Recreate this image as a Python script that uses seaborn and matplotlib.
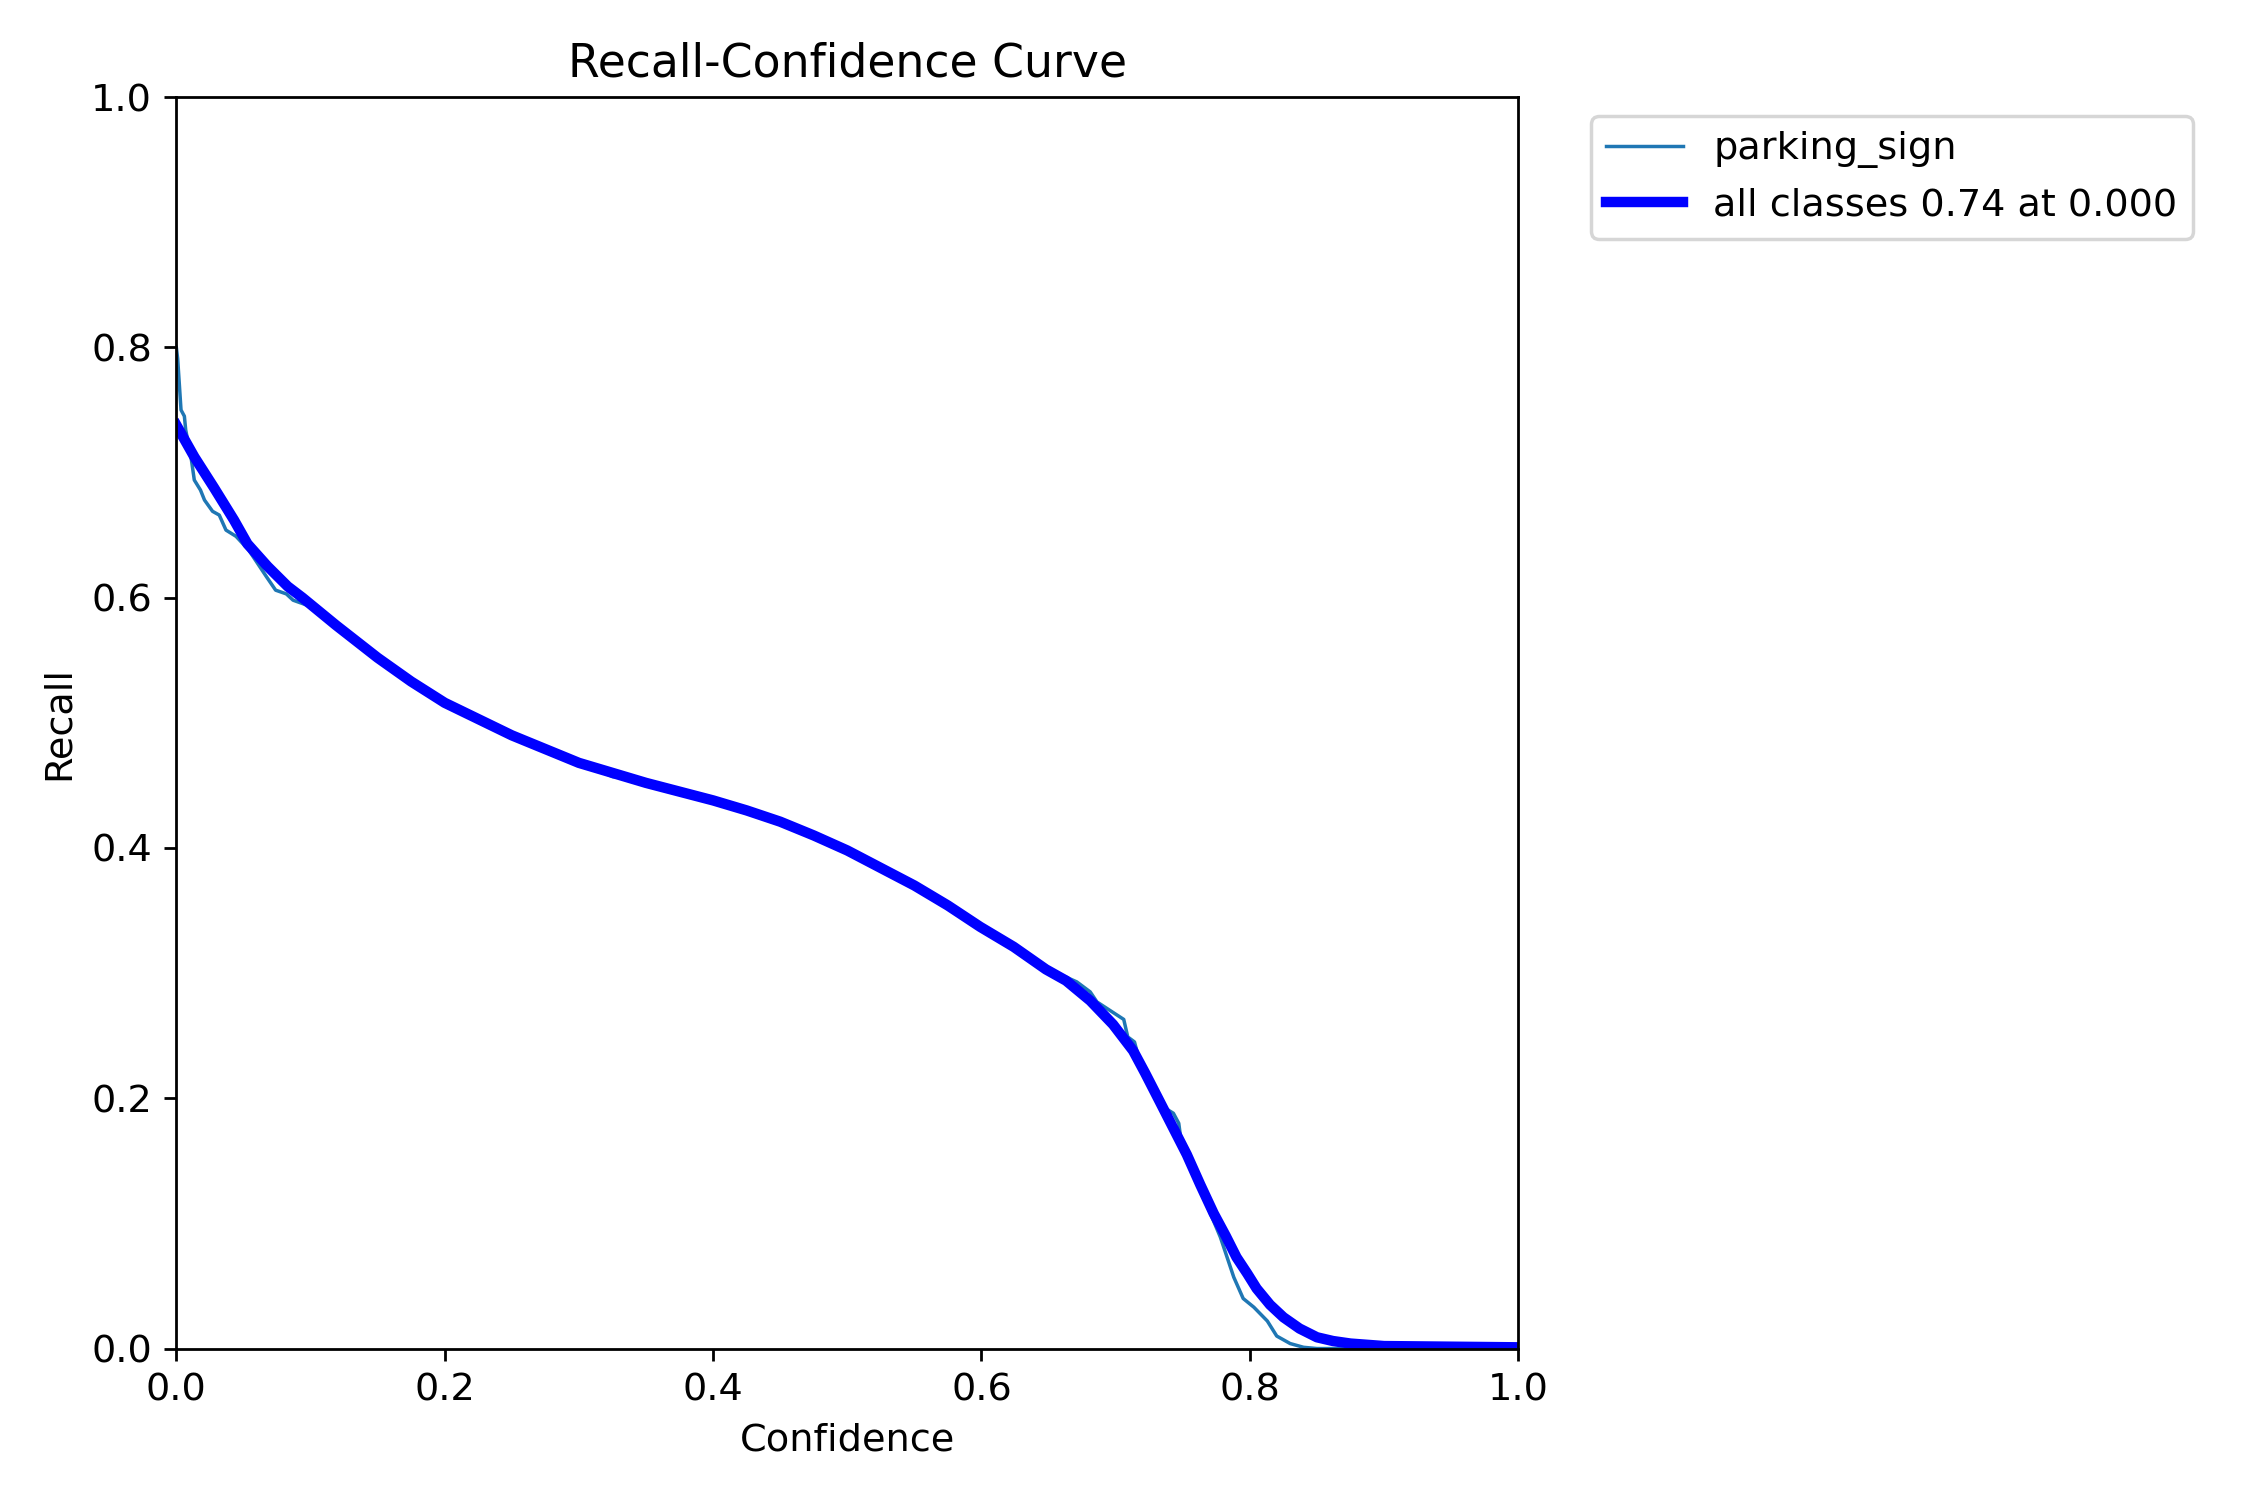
import matplotlib
matplotlib.use('Agg')
import matplotlib.pyplot as plt
import seaborn as sns

# --- data ---
class_name = 'parking_sign'
conf_cls = [0.0, 0.001, 0.0035, 0.006, 0.007, 0.011, 0.0134, 0.018, 0.021, 0.027,
            0.032, 0.037, 0.0445, 0.054, 0.067, 0.074, 0.082, 0.087, 0.1, 0.12,
            0.15, 0.2, 0.25, 0.3, 0.315, 0.325, 0.335, 0.35, 0.4, 0.44,
            0.45, 0.46, 0.47, 0.5, 0.55, 0.6, 0.65, 0.671, 0.681, 0.686,
            0.696, 0.706, 0.709, 0.714, 0.717, 0.726, 0.737, 0.743, 0.747, 0.749,
            0.76, 0.778, 0.788, 0.795, 0.803, 0.813, 0.820, 0.830, 0.840, 0.85, 1.0]
recall_cls = [0.80, 0.791, 0.750, 0.745, 0.734, 0.712, 0.694, 0.686, 0.678, 0.669,
              0.666, 0.654, 0.649, 0.638, 0.617, 0.606, 0.603, 0.598, 0.593, 0.577,
              0.552, 0.515, 0.490, 0.468, 0.462, 0.457, 0.456, 0.452, 0.438, 0.423,
              0.421, 0.415, 0.414, 0.398, 0.370, 0.337, 0.303, 0.293, 0.285, 0.277,
              0.270, 0.263, 0.249, 0.245, 0.233, 0.214, 0.192, 0.188, 0.180, 0.164,
              0.135, 0.089, 0.057, 0.040, 0.033, 0.022, 0.010, 0.004, 0.001, 0.0, 0.0]

conf_all = [0.0, 0.0134, 0.028, 0.043, 0.053, 0.068, 0.083, 0.094, 0.119, 0.15,
            0.175, 0.2, 0.225, 0.25, 0.275, 0.3, 0.325, 0.35, 0.375, 0.4,
            0.425, 0.45, 0.475, 0.5, 0.525, 0.55, 0.575, 0.599, 0.624, 0.648,
            0.663, 0.681, 0.698, 0.713, 0.722, 0.733, 0.743, 0.753, 0.763, 0.773,
            0.782, 0.790, 0.798, 0.805, 0.815, 0.825, 0.837, 0.85, 0.862, 0.875,
            0.9, 1.0]
recall_all = [0.738, 0.7125, 0.688, 0.662, 0.643, 0.625, 0.609, 0.600, 0.578, 0.552,
              0.533, 0.516, 0.503, 0.490, 0.479, 0.468, 0.460, 0.452, 0.445, 0.438,
              0.430, 0.421, 0.410, 0.398, 0.384, 0.370, 0.354, 0.337, 0.321, 0.303,
              0.294, 0.278, 0.259, 0.238, 0.220, 0.197, 0.176, 0.155, 0.131, 0.108,
              0.090, 0.073, 0.060, 0.048, 0.035, 0.025, 0.016, 0.009, 0.006, 0.004,
              0.002, 0.001]
best_recall = 0.74
best_conf = 0.000

plt.rcParams['font.size'] = 11

fig, ax = plt.subplots(1, 1, figsize=(9, 6), tight_layout=True)

sns.lineplot(x=conf_cls, y=recall_cls, ax=ax, linewidth=1, color='#1f77b4',
             label=class_name, estimator=None, sort=False)
sns.lineplot(x=conf_all, y=recall_all, ax=ax, linewidth=3, color='blue',
             label=f'all classes {best_recall:.2f} at {best_conf:.3f}',
             estimator=None, sort=False)

ax.set_xlabel('Confidence')
ax.set_ylabel('Recall')
ax.set_xlim(0, 1)
ax.set_ylim(0, 1)
ax.legend(bbox_to_anchor=(1.04, 1), loc='upper left')
ax.set_title('Recall-Confidence Curve')

fig.savefig('out.png', dpi=250)
